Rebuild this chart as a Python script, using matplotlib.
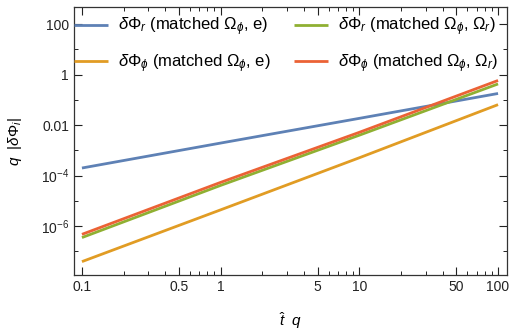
import matplotlib
matplotlib.use("Agg")
import matplotlib.pyplot as plt
import matplotlib.ticker as mticker
import numpy as np

plt.rcParams['font.family'] = ['Liberation Sans', 'DejaVu Sans']
plt.rcParams['mathtext.fontset'] = 'custom'
plt.rcParams['mathtext.rm'] = 'Liberation Sans'
plt.rcParams['mathtext.it'] = 'Liberation Sans:italic'
plt.rcParams['mathtext.bf'] = 'Liberation Sans:bold'

# phase error against scaled time
t_q = [0.1, 1, 10, 100]
dphi_r_e = [2.0e-4, 1.95e-3, 1.86e-2, 0.18]
dphi_phi_e = [3.9e-8, 4.4e-6, 5.1e-4, 0.065]
dphi_r_om = [3.5e-7, 4.1e-5, 4.0e-3, 0.43]
dphi_phi_om = [4.7e-7, 5.4e-5, 5.2e-3, 0.59]

labels = [r'$\mathit{\delta}\Phi_r$ (matched $\Omega_\phi$, e)',
          r'$\mathit{\delta}\Phi_\phi$ (matched $\Omega_\phi$, e)',
          r'$\mathit{\delta}\Phi_r$ (matched $\Omega_\phi$, $\Omega_r$)',
          r'$\mathit{\delta}\Phi_\phi$ (matched $\Omega_\phi$, $\Omega_r$)']
colors = ['#5E81B5', '#E19C24', '#8FB032', '#EB6235']

fig = plt.figure(figsize=(5.13, 3.35), dpi=100)
ax = fig.add_axes([0.1442, 0.1791, 0.8441, 0.7999])

series = [dphi_r_e, dphi_phi_e, dphi_r_om, dphi_phi_om]
for y, c, lab in zip(series, colors, labels):
    ax.plot(t_q, y, color=c, lw=2, label=lab, solid_capstyle='butt')

ax.set_xscale('log')
ax.set_yscale('log')
ax.set_xlim(0.0876, 116)
ax.set_ylim(1.15e-8, 480)

ax.xaxis.set_major_locator(mticker.FixedLocator([0.1, 0.5, 1, 5, 10, 50, 100]))
ax.xaxis.set_major_formatter(mticker.FixedFormatter(['0.1', '0.5', '1', '5', '10', '50', '100']))
xminor = [m * 10.0 ** e for e in (-1, 0, 1) for m in (2, 3, 4, 6, 7, 8, 9)]
ax.xaxis.set_minor_locator(mticker.FixedLocator(xminor))

ax.yaxis.set_major_locator(mticker.FixedLocator([1e2, 1, 1e-2, 1e-4, 1e-6]))
ax.yaxis.set_major_formatter(mticker.FixedFormatter(['100', '1', '0.01', r'$10^{-4}$', r'$10^{-6}$']))
ax.yaxis.set_minor_locator(mticker.FixedLocator([1e1, 1e-1, 1e-3, 1e-5, 1e-7]))
ax.yaxis.set_minor_formatter(mticker.NullFormatter())

ax.tick_params(which='both', direction='in', top=True, right=True, labelsize=10, colors='#222222')
ax.tick_params(which='major', length=5.5, width=0.8)
ax.tick_params(which='minor', length=3, width=0.7)
for s in ax.spines.values():
    s.set_color('#333333')
    s.set_linewidth(0.9)

ax.set_xlabel(r'$\hat{t}\ \ q$', fontsize=11, labelpad=12)
ax.set_ylabel(r'$q\ \ |\mathit{\delta}\Phi_i|$', fontsize=11, labelpad=12)

ax.legend(loc='upper left', ncol=2, frameon=False, fontsize=12,
          handlelength=2.05, handletextpad=0.6, columnspacing=1.4,
          labelspacing=0.85, borderaxespad=0.0, borderpad=0.0,
          bbox_to_anchor=(0.0, 0.968))

fig.savefig('out.png', dpi=100)
